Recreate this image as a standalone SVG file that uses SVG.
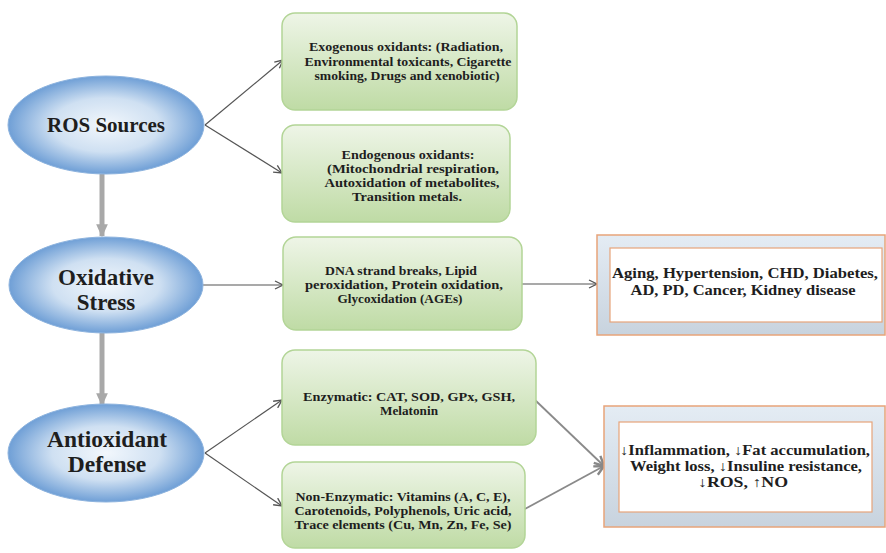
<svg xmlns="http://www.w3.org/2000/svg" width="886" height="553" viewBox="0 0 886 553">
<defs>
  <radialGradient id="gBlue" cx="0.5" cy="0.5" r="0.5">
    <stop offset="0" stop-color="#f2f7fc"/>
    <stop offset="0.55" stop-color="#cfe0f2"/>
    <stop offset="1" stop-color="#6f9fd6"/>
  </radialGradient>
  <linearGradient id="gGreen" x1="0" y1="0" x2="0" y2="1">
    <stop offset="0" stop-color="#eef5e7"/>
    <stop offset="1" stop-color="#bfdba5"/>
  </linearGradient>
  <linearGradient id="gSteel" x1="0" y1="0" x2="0" y2="1">
    <stop offset="0" stop-color="#e4ecf4"/>
    <stop offset="1" stop-color="#c8d3de"/>
  </linearGradient>
  <marker id="open" viewBox="0 0 10 10" refX="9" refY="5" markerWidth="10" markerHeight="10" markerUnits="userSpaceOnUse" orient="auto">
    <path d="M1,1 L9,5 L1,9" fill="none" stroke="#555" stroke-width="1.3"/>
  </marker>
  <marker id="openGrey" viewBox="0 0 10 10" refX="9" refY="5" markerWidth="12" markerHeight="12" markerUnits="userSpaceOnUse" orient="auto">
    <path d="M1,1 L9,5 L1,9" fill="none" stroke="#888" stroke-width="2"/>
  </marker>
  <marker id="fat" viewBox="0 0 10 10" refX="9" refY="5" markerWidth="13" markerHeight="13" markerUnits="userSpaceOnUse" orient="auto">
    <path d="M0,0.5 L10,5 L0,9.5 Z" fill="#a8a8a8"/>
  </marker>
</defs>
<style>
  .ell { fill: url(#gBlue); stroke: #8db3de; stroke-width: 1; }
  .grn { fill: url(#gGreen); stroke: #b3d597; stroke-width: 1.5; }
  .outer { fill: url(#gSteel); stroke: #e7a47a; stroke-width: 1.5; }
  .inner { fill: #ffffff; stroke: #e7a47a; stroke-width: 1.2; }
  .t { font-family: 'Liberation Serif', 'Times New Roman', 'DejaVu Serif', serif; font-weight: 700; fill: #1e1e1e; text-anchor: middle; }
  .big { font-size: 23px; }
  .mid { font-size: 13.8px; }
  .sm { font-size: 11.5px; }
  .c { fill: none; stroke: #555; stroke-width: 1.2; marker-end: url(#open); }
  .c2 { fill: none; stroke: #8a8a8a; stroke-width: 1.8; marker-end: url(#openGrey); }
  .v { fill: none; stroke: #a8a8a8; stroke-width: 5; marker-end: url(#fat); }
</style>
<rect width="886" height="553" fill="#ffffff"/>

<g id="connectors">
  <line class="v" x1="102" y1="174" x2="102" y2="236"/>
  <line class="v" x1="102" y1="333" x2="102" y2="405"/>
  <line class="c" x1="205" y1="125" x2="283" y2="60"/>
  <line class="c" x1="205" y1="125" x2="282" y2="173"/>
  <line class="c" x1="203" y1="285" x2="283" y2="285"/>
  <line class="c" x1="522" y1="284" x2="597" y2="284"/>
  <line class="c" x1="205" y1="453" x2="282" y2="400"/>
  <line class="c" x1="205" y1="453" x2="282" y2="506"/>
  <line class="c2" x1="535" y1="400" x2="604" y2="466"/>
  <line class="c2" x1="523" y1="510" x2="604" y2="466"/>
</g>

<g id="ros-sources">
  <ellipse class="ell" cx="106" cy="125" rx="98" ry="49"/>
  <text class="t" x="106" y="132" font-size="21">ROS Sources</text>
</g>
<g id="oxidative-stress">
  <ellipse class="ell" cx="106" cy="285" rx="97" ry="48"/>
  <text class="t big" x="106" y="285">Oxidative</text>
  <text class="t big" x="106" y="310">Stress</text>
</g>
<g id="antioxidant-defense">
  <ellipse class="ell" cx="106" cy="453" rx="98" ry="49"/>
  <text class="t" x="107" y="447" font-size="23.5">Antioxidant</text>
  <text class="t" x="107" y="472" font-size="23.5">Defense</text>
</g>

<g id="exogenous">
  <rect class="grn" x="282" y="13" width="235" height="97" rx="13"/>
  <text class="t sm" x="406" y="51" textLength="194" lengthAdjust="spacingAndGlyphs">Exogenous oxidants: (Radiation,</text>
  <text class="t sm" x="408" y="66" textLength="207" lengthAdjust="spacingAndGlyphs">Environmental  toxicants, Cigarette</text>
  <text class="t sm" x="407" y="80" textLength="185" lengthAdjust="spacingAndGlyphs">smoking, Drugs and xenobiotic)</text>
</g>
<g id="endogenous">
  <rect class="grn" x="282" y="125" width="228" height="97" rx="13"/>
  <text class="t sm" x="408" y="159" textLength="133" lengthAdjust="spacingAndGlyphs">Endogenous oxidants:</text>
  <text class="t sm" x="413" y="173" textLength="172" lengthAdjust="spacingAndGlyphs">(Mitochondrial respiration,</text>
  <text class="t sm" x="412" y="187" textLength="175" lengthAdjust="spacingAndGlyphs">Autoxidation of metabolites,</text>
  <text class="t sm" x="407" y="201" textLength="110" lengthAdjust="spacingAndGlyphs">Transition metals.</text>
</g>
<g id="damage">
  <rect class="grn" x="283" y="237" width="239" height="93" rx="13"/>
  <text class="t sm" x="401" y="275" textLength="152" lengthAdjust="spacingAndGlyphs">DNA strand breaks, Lipid</text>
  <text class="t sm" x="404" y="289" textLength="198" lengthAdjust="spacingAndGlyphs">peroxidation,  Protein oxidation,</text>
  <text class="t sm" x="400" y="303" textLength="125" lengthAdjust="spacingAndGlyphs">Glycoxidation  (AGEs)</text>
</g>
<g id="enzymatic">
  <rect class="grn" x="282" y="350" width="254" height="95" rx="13"/>
  <text class="t sm" x="409" y="401" textLength="212" lengthAdjust="spacingAndGlyphs">Enzymatic:  CAT, SOD, GPx, GSH,</text>
  <text class="t sm" x="409" y="415" textLength="58" lengthAdjust="spacingAndGlyphs">Melatonin</text>
</g>
<g id="non-enzymatic">
  <rect class="grn" x="282" y="462" width="243" height="86" rx="13"/>
  <text class="t sm" x="403" y="501" textLength="215" lengthAdjust="spacingAndGlyphs">Non-Enzymatic:  Vitamins (A, C, E),</text>
  <text class="t sm" x="403" y="515" textLength="217" lengthAdjust="spacingAndGlyphs">Carotenoids, Polyphenols, Uric acid,</text>
  <text class="t sm" x="403" y="529" textLength="217" lengthAdjust="spacingAndGlyphs">Trace elements (Cu, Mn, Zn, Fe, Se)</text>
</g>

<g id="diseases">
  <rect class="outer" x="597" y="235" width="288" height="100"/>
  <rect class="inner" x="610" y="248" width="272" height="74"/>
  <text class="t mid" x="745" y="278" textLength="266" lengthAdjust="spacingAndGlyphs">Aging, Hypertension, CHD, Diabetes,</text>
  <text class="t mid" x="743" y="295" textLength="225" lengthAdjust="spacingAndGlyphs">AD, PD, Cancer, Kidney disease</text>
</g>
<g id="benefits">
  <rect class="outer" x="604" y="406" width="281" height="121"/>
  <rect class="inner" x="619" y="422" width="253" height="90"/>
  <text class="t mid" x="745" y="455" textLength="250" lengthAdjust="spacingAndGlyphs">↓Inflammation, ↓Fat accumulation,</text>
  <text class="t mid" x="746" y="471" textLength="232" lengthAdjust="spacingAndGlyphs">Weight loss, ↓Insuline resistance,</text>
  <text class="t mid" x="743" y="487" textLength="90" lengthAdjust="spacingAndGlyphs">↓ROS, ↑NO</text>
</g>
</svg>
